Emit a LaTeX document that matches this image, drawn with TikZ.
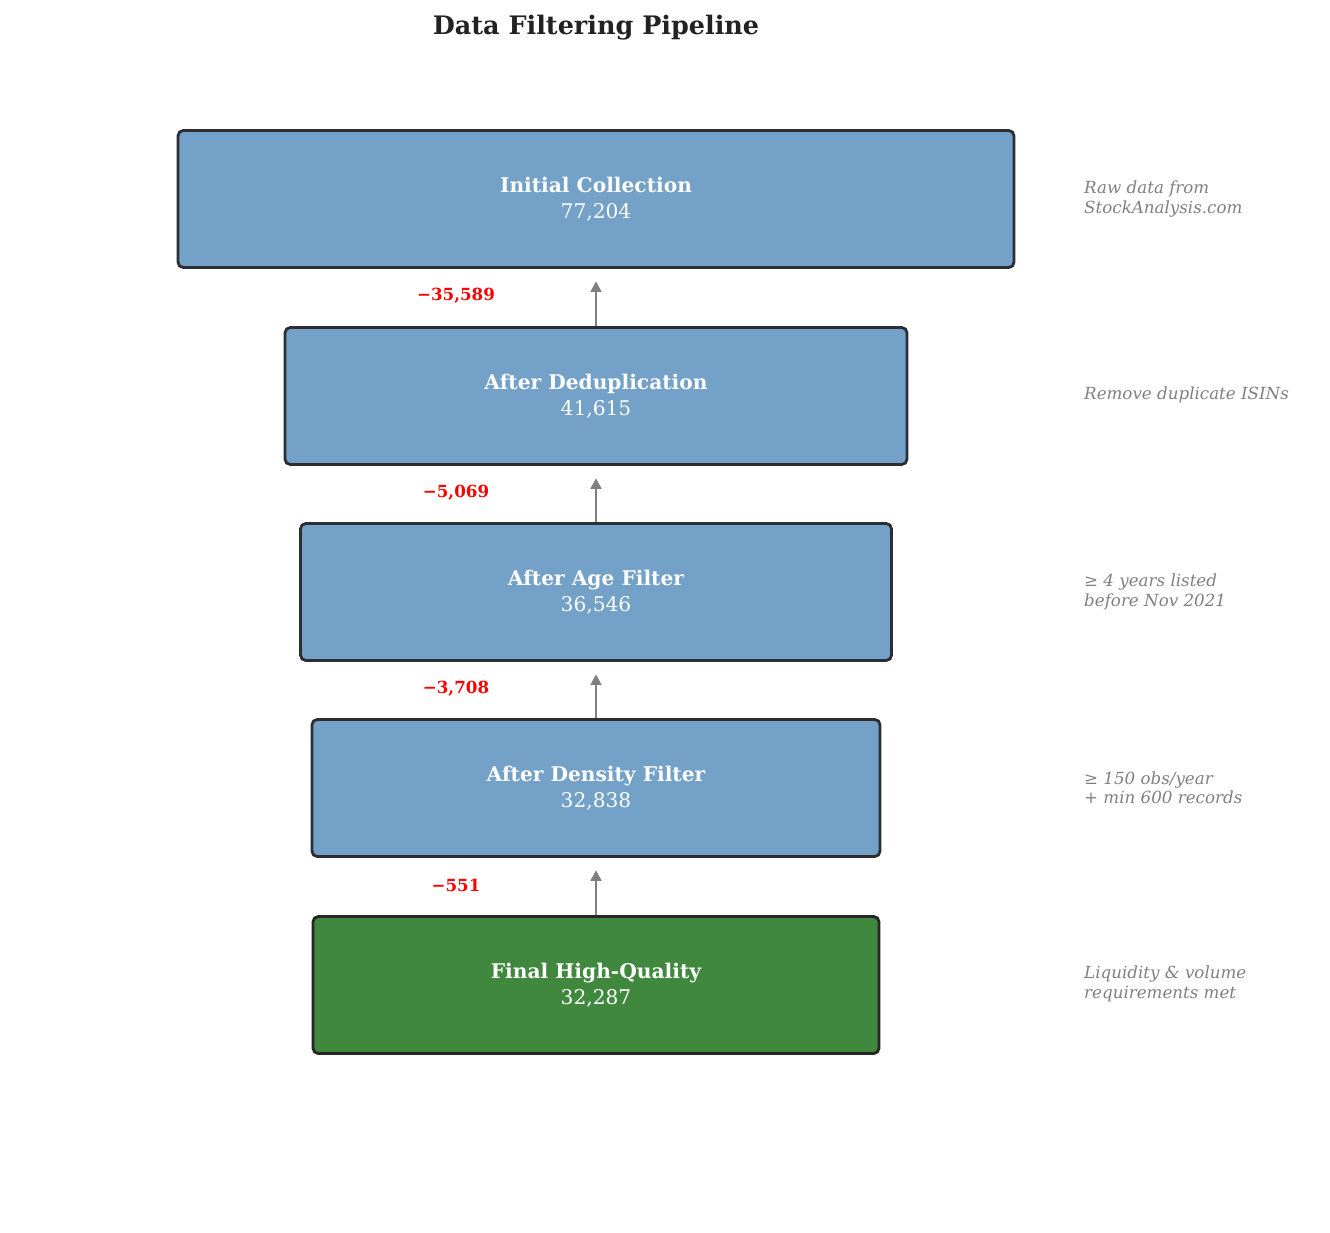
\documentclass[tikz,border=0pt]{standalone}
\usepackage{fontspec}
\setmainfont{DejaVu Serif}
\usetikzlibrary{arrows.meta}
\definecolor{stageblue}{HTML}{73A1C7}
\definecolor{stagegreen}{HTML}{3F883D}
\definecolor{edgegray}{HTML}{2B2E33}
\tikzset{
  stage/.style={draw=edgegray, line width=1.6pt, rounded corners=3pt, text=white, align=center, inner sep=0pt},
  drop/.style={text=red, font=\fontsize{9.5}{11}\selectfont\bfseries},
  note/.style={text=gray, anchor=west, align=left, font=\fontsize{9.5}{11}\selectfont\itshape},
  flow/.style={-{Stealth[length=6pt,width=6pt,inset=0pt]}, draw=gray, line width=1.6pt, shorten >=7pt},
}
\newcommand{\stagetext}[2]{{\fontsize{11.5}{14}\selectfont\bfseries #1}\\[3pt]{\fontsize{11.5}{14}\selectfont #2}}
\begin{document}
\begin{tikzpicture}[x=0.02cm,y=-0.02cm]
  \useasboundingbox (0,0) rectangle (1330,1232);
  \node (title) at (596,28) {\fontsize{14.5}{17}\selectfont\bfseries\color[HTML]{222222}Data Filtering Pipeline};
  \node (s1) [stage, fill=stageblue, minimum width=836*0.02cm, minimum height=137*0.02cm] at (596,199) {\stagetext{Initial Collection}{77,204}};
  \node (s2) [stage, fill=stageblue, minimum width=622*0.02cm, minimum height=137*0.02cm] at (596,396) {\stagetext{After Deduplication}{41,615}};
  \node (s3) [stage, fill=stageblue, minimum width=591*0.02cm, minimum height=137*0.02cm] at (596,592) {\stagetext{After Age Filter}{36,546}};
  \node (s4) [stage, fill=stageblue, minimum width=568*0.02cm, minimum height=137*0.02cm] at (596,788) {\stagetext{After Density Filter}{32,838}};
  \node (s5) [stage, fill=stagegreen, draw=black!85, minimum width=566*0.02cm, minimum height=137*0.02cm] at (596,985) {\stagetext{Final High-Quality}{32,287}};
  \draw[flow] (s2) -- (s1);
  \draw[flow] (s3) -- (s2);
  \draw[flow] (s4) -- (s3);
  \draw[flow] (s5) -- (s4);
  \node (d1) [drop] at (456,296) {−35,589};
  \node (d2) [drop] at (456,493) {−5,069};
  \node (d3) [drop] at (456,689) {−3,708};
  \node (d4) [drop] at (456,885) {−551};
  \node (n1) [note] at (1078,199) {Raw data from\\StockAnalysis.com};
  \node (n2) [note] at (1078,395) {Remove duplicate ISINs};
  \node (n3) [note] at (1078,592) {≥ 4 years listed\\before Nov 2021};
  \node (n4) [note] at (1078,788) {≥ 150 obs/year\\+ min 600 records};
  \node (n5) [note] at (1078,984) {Liquidity \& volume\\requirements met};
\end{tikzpicture}
\end{document}
